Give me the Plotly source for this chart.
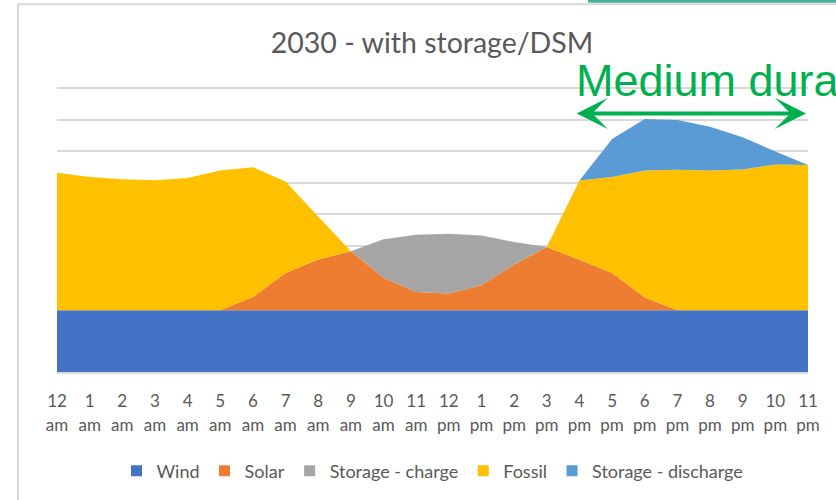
import plotly.graph_objects as go

# ---- data ----
hour_labels = ['12', '1', '2', '3', '4', '5', '6', '7', '8', '9', '10', '11',
               '12', '1', '2', '3', '4', '5', '6', '7', '8', '9', '10', '11']
period_labels = ['am'] * 12 + ['pm'] * 12

wind = [1.96] * 24
solar = [0, 0, 0, 0, 0, 0, 0.42, 1.18, 1.61, 1.87, 1.03, 0.58,
         0.53, 0.79, 1.45, 2.00, 1.60, 1.18, 0.40, 0, 0, 0, 0, 0]
storage_charge = [0, 0, 0, 0, 0, 0, 0, 0, 0, 0, 1.22, 1.81,
                  1.89, 1.58, 0.71, 0, 0, 0, 0, 0, 0, 0, 0, 0]
fossil = [4.36, 4.22, 4.15, 4.12, 4.19, 4.43, 4.11, 2.90, 1.36, 0, 0, 0,
          0, 0, 0, 0, 2.51, 3.04, 4.03, 4.45, 4.43, 4.46, 4.62, 4.60]
storage_discharge = [0, 0, 0, 0, 0, 0, 0, 0, 0, 0, 0, 0,
                     0, 0, 0, 0, 0, 1.21, 1.63, 1.58, 1.39, 1.02, 0.41, 0]

series_names = ['Wind', 'Solar', 'Storage - charge', 'Fossil', 'Storage - discharge']
series_values = [wind, solar, storage_charge, fossil, storage_discharge]
series_colors = ['#4472C4', '#ED7D31', '#A5A5A5', '#FFC000', '#5B9BD5']

x = list(range(len(hour_labels)))

fig = go.Figure()
for name, vals, col in zip(series_names, series_values, series_colors):
    fig.add_trace(go.Scatter(
        x=x, y=vals, name=name, mode='lines', stackgroup='one',
        line=dict(width=0, color=col), fillcolor=col, showlegend=False,
        hoverinfo='skip'))
# legend entries with square symbols
for name, col in zip(series_names, series_colors):
    fig.add_trace(go.Scatter(
        x=[None], y=[None], name=name, mode='markers',
        marker=dict(symbol='square', size=11, color=col), showlegend=True))
# helper trace for the second label row
fig.add_trace(go.Scatter(x=[None], y=[None], xaxis='x2', showlegend=False,
                         mode='markers', hoverinfo='skip'))

PH = 287  # plot height in px
tick_font = dict(family='Lato', size=17, color='#595959')
fig.update_layout(
    width=836, height=500,
    margin=dict(l=57, r=28, t=500 - 128 - PH, b=128, autoexpand=False),
    paper_bgcolor='white', plot_bgcolor='white',
    title=dict(text='2030 - with storage/DSM', x=432 / 836, xref='container',
               xanchor='center', y=1 - 43 / 500, yanchor='middle',
               font=dict(family='Lato', size=28.5, color='#595959')),
    xaxis=dict(range=[0, 23], tickmode='array', tickvals=x, ticktext=hour_labels,
               showgrid=False, zeroline=False, showline=True, linecolor='#D9D9D9',
               linewidth=1.5, ticks='', tickfont=tick_font, ticklabelstandoff=13),
    xaxis2=dict(range=[0, 23], overlaying='x', side='bottom', matches='x',
                tickmode='array', tickvals=x, ticktext=period_labels,
                showgrid=False, zeroline=False, showline=False, ticks='',
                tickfont=tick_font, ticklabelstandoff=41),
    yaxis=dict(range=[0, 9.1], tickmode='array', tickvals=list(range(1, 10)),
               showgrid=True, gridcolor='#D9D9D9',
               gridwidth=1.5, zeroline=False, showticklabels=False, ticks=''),
    legend=dict(orientation='h', x=0.50, xanchor='center', y=-99 / PH,
                yanchor='middle', font=dict(family='Lato', size=18, color='#595959'),
                traceorder='normal', itemclick=False),
    showlegend=True,
)

# chart frame & decorative top bar
fig.add_shape(type='rect', xref='paper', yref='paper',
              x0=(18 - 57) / 751, x1=(845 - 57) / 751,
              y0=(372 - 510) / PH, y1=(372 - 4.3) / PH,
              line=dict(color='#D9D9D9', width=2), fillcolor='rgba(0,0,0,0)', layer='below')
fig.add_shape(type='rect', xref='paper', yref='paper',
              x0=(588 - 57) / 751, x1=(845 - 57) / 751,
              y0=(372 - 2.8) / PH, y1=(372 + 3) / PH,
              line=dict(width=0), fillcolor='#45B496')

# "Medium duration" label and arrow
fig.add_annotation(text='Medium duration', xref='paper', yref='paper',
                   x=(574 - 57) / 751, xanchor='left', y=(372 - 81) / PH,
                   yanchor='middle', showarrow=False,
                   font=dict(family='Liberation Sans, Arial', size=45, color='#00B050'))
fig.add_annotation(text='', x=22.94, y=8.2, ax=15.87, ay=8.2,
                   xref='x', yref='y', axref='x', ayref='y', showarrow=True,
                   arrowside='end+start', arrowhead=3, startarrowhead=3,
                   arrowsize=1.3, startarrowsize=1.3, arrowwidth=4,
                   arrowcolor='#00B050', standoff=0, startstandoff=0)

fig.write_html('out.html', config={'displayModeBar': False},
               post_script="document.body.style.margin='0';"
                           "document.body.style.overflow='hidden';")
